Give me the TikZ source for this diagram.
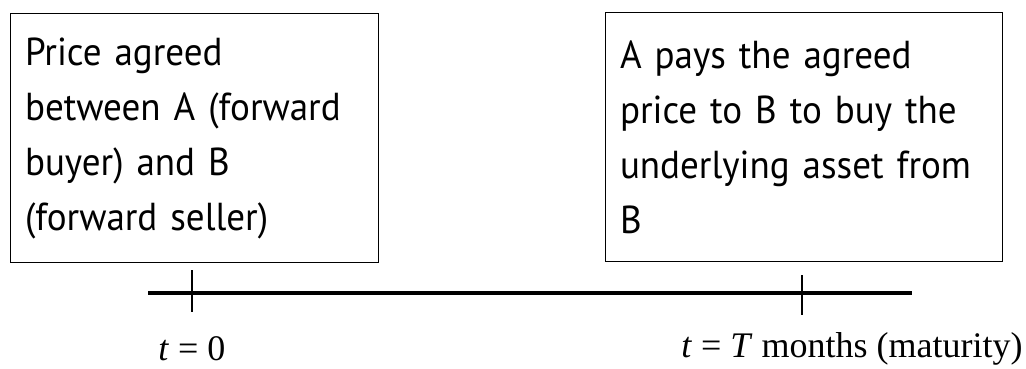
\documentclass[tikz,border=0pt]{standalone}
\usepackage{fontspec}
\setmainfont{Liberation Serif}
\newfontfamily\boxfont[FakeStretch=0.95]{PT Sans}
\usetikzlibrary{positioning}
\tikzstyle{eventbox} = [draw, line width=1pt, minimum height=248pt, inner xsep=15pt, inner ysep=0pt, align=left, font=\boxfont\fontsize{39}{55}\selectfont]
\tikzstyle{timelab} = [inner sep=0pt, anchor=base, font=\fontsize{36}{40}\selectfont]

\begin{document}
\begin{tikzpicture}[x=1pt, y=-1pt]
        \useasboundingbox (0,0) rectangle (1026,369);
        % Node positions
        \node[eventbox, text width=338pt] (agree) at (194,138) {Price agreed\\between A (forward\\buyer) and B\\(forward seller)};
        \node[eventbox, text width=367pt] (pay) at (803.5,137) {A pays the agreed\\price to B to buy the\\underlying asset from\\B};
        \coordinate (lineL) at (148,293);
        \coordinate (lineR) at (912,293);
        \coordinate (tickAtop) at (192,270);
        \coordinate (tickAbot) at (192,312);
        \coordinate (tickBtop) at (802,275);
        \coordinate (tickBbot) at (802,315);
        \node[timelab] (startlab) at (192,360) {\textit{t} = 0};
        \node[timelab] (endlab) at (852,357) {\textit{t} = \textit{T} months (maturity)};

        \draw[line width=4pt] (lineL) -- (lineR);
        \draw[line width=1.2pt] (tickAtop) -- (tickAbot);
        \draw[line width=1.2pt] (tickBtop) -- (tickBbot);

      \end{tikzpicture}
\end{document}
